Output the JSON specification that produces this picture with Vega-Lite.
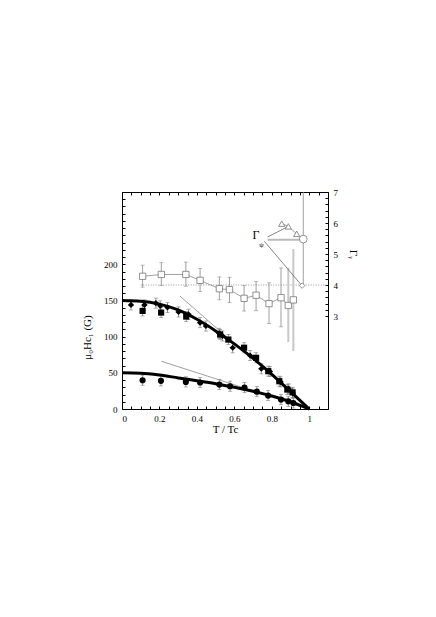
{
 "$schema": "https://vega.github.io/schema/vega-lite/v6.json",
 "width": 206, "height": 217,
 "autosize": "none",
 "padding": {"left": 122, "top": 192, "right": 108, "bottom": 208},
 "background": "white",
 "config": {
  "view": {"stroke": "black", "strokeWidth": 1},
  "axis": {"domainColor": "black", "tickColor": "black", "tickSize": -3, "labelFont": "Liberation Serif", "labelFontSize": 9, "labelColor": "black", "titleFont": "Liberation Serif, DejaVu Serif", "titleFontSize": 11, "titleFontWeight": "normal", "titleColor": "black", "grid": false, "labelPadding": 8}
 },
 "datasets": {
  "curves": [
   {"x": 0, "y": 150, "s": "u"}, {"x": 0.1, "y": 149, "s": "u"}, {"x": 0.2, "y": 145, "s": "u"}, {"x": 0.3, "y": 137, "s": "u"}, {"x": 0.4, "y": 124, "s": "u"}, {"x": 0.5, "y": 108, "s": "u"}, {"x": 0.6, "y": 90, "s": "u"}, {"x": 0.7, "y": 70, "s": "u"}, {"x": 0.8, "y": 48, "s": "u"}, {"x": 0.9, "y": 24, "s": "u"}, {"x": 1.0, "y": 0, "s": "u"},
   {"x": 0, "y": 50, "s": "l"}, {"x": 0.1, "y": 49.5, "s": "l"}, {"x": 0.2, "y": 47, "s": "l"}, {"x": 0.3, "y": 43, "s": "l"}, {"x": 0.4, "y": 39, "s": "l"}, {"x": 0.5, "y": 35, "s": "l"}, {"x": 0.6, "y": 30, "s": "l"}, {"x": 0.7, "y": 24.5, "s": "l"}, {"x": 0.8, "y": 18, "s": "l"}, {"x": 0.9, "y": 10, "s": "l"}, {"x": 1.0, "y": 0, "s": "l"}
  ],
  "tangents": [
   {"x": 0.31, "y": 156, "s": "u"}, {"x": 0.65, "y": 79, "s": "u"},
   {"x": 0.21, "y": 66, "s": "l"}, {"x": 0.75, "y": 21, "s": "l"}
  ],
  "hc1": [
   {"t": "d", "x": 0.048, "y": 143.9, "ylo": 136.9, "yhi": 150.9, "xlo": 0.033, "xhi": 0.063},
   {"t": "d", "x": 0.120, "y": 143.9, "ylo": 136.9, "yhi": 150.9, "xlo": 0.105, "xhi": 0.135},
   {"t": "d", "x": 0.181, "y": 146.3, "ylo": 139.3, "yhi": 153.3, "xlo": 0.166, "xhi": 0.196},
   {"t": "d", "x": 0.204, "y": 142.6, "ylo": 135.6, "yhi": 149.6, "xlo": 0.189, "xhi": 0.219},
   {"t": "d", "x": 0.243, "y": 140.3, "ylo": 133.3, "yhi": 147.3, "xlo": 0.228, "xhi": 0.258},
   {"t": "d", "x": 0.302, "y": 134.2, "ylo": 127.2, "yhi": 141.2, "xlo": 0.287, "xhi": 0.317},
   {"t": "d", "x": 0.355, "y": 131, "ylo": 124, "yhi": 138, "xlo": 0.34, "xhi": 0.37},
   {"t": "d", "x": 0.417, "y": 119.4, "ylo": 112.4, "yhi": 126.4, "xlo": 0.402, "xhi": 0.432},
   {"t": "d", "x": 0.448, "y": 114.7, "ylo": 107.7, "yhi": 121.7, "xlo": 0.433, "xhi": 0.463},
   {"t": "d", "x": 0.519, "y": 104.6, "ylo": 97.6, "yhi": 111.6, "xlo": 0.504, "xhi": 0.534},
   {"t": "d", "x": 0.536, "y": 101, "ylo": 94, "yhi": 108, "xlo": 0.521, "xhi": 0.551},
   {"t": "d", "x": 0.591, "y": 84.7, "ylo": 77.7, "yhi": 91.7, "xlo": 0.576, "xhi": 0.606},
   {"t": "d", "x": 0.684, "y": 74, "ylo": 67, "yhi": 81, "xlo": 0.669, "xhi": 0.699},
   {"t": "d", "x": 0.744, "y": 55.6, "ylo": 48.6, "yhi": 62.6, "xlo": 0.729, "xhi": 0.759},
   {"t": "d", "x": 0.79, "y": 51.9, "ylo": 44.9, "yhi": 58.9, "xlo": 0.775, "xhi": 0.805},
   {"t": "d", "x": 0.847, "y": 37.5, "ylo": 30.5, "yhi": 44.5, "xlo": 0.832, "xhi": 0.862},
   {"t": "d", "x": 0.89, "y": 27.8, "ylo": 20.8, "yhi": 34.8, "xlo": 0.875, "xhi": 0.905},
   {"t": "d", "x": 0.911, "y": 22, "ylo": 15, "yhi": 29, "xlo": 0.896, "xhi": 0.926},
   {"t": "s", "x": 0.110, "y": 135.6, "ylo": 128.6, "yhi": 142.6, "xlo": 0.095, "xhi": 0.125},
   {"t": "s", "x": 0.209, "y": 133.3, "ylo": 126.3, "yhi": 140.3, "xlo": 0.194, "xhi": 0.224},
   {"t": "s", "x": 0.343, "y": 127.8, "ylo": 120.8, "yhi": 134.8, "xlo": 0.328, "xhi": 0.358},
   {"t": "s", "x": 0.524, "y": 103, "ylo": 96, "yhi": 110, "xlo": 0.509, "xhi": 0.539},
   {"t": "s", "x": 0.568, "y": 96, "ylo": 89, "yhi": 103, "xlo": 0.553, "xhi": 0.583},
   {"t": "s", "x": 0.652, "y": 84.7, "ylo": 77.7, "yhi": 91.7, "xlo": 0.637, "xhi": 0.667},
   {"t": "s", "x": 0.716, "y": 70.8, "ylo": 63.8, "yhi": 77.8, "xlo": 0.701, "xhi": 0.731},
   {"t": "s", "x": 0.781, "y": 52.3, "ylo": 45.3, "yhi": 59.3, "xlo": 0.766, "xhi": 0.796},
   {"t": "s", "x": 0.84, "y": 38.4, "ylo": 31.4, "yhi": 45.4, "xlo": 0.825, "xhi": 0.855},
   {"t": "s", "x": 0.883, "y": 26.9, "ylo": 19.9, "yhi": 33.9, "xlo": 0.868, "xhi": 0.898},
   {"t": "s", "x": 0.911, "y": 23, "ylo": 16, "yhi": 30, "xlo": 0.896, "xhi": 0.926},
   {"t": "c", "x": 0.11, "y": 39.8, "ylo": 32.8, "yhi": 46.8, "xlo": 0.095, "xhi": 0.125},
   {"t": "c", "x": 0.208, "y": 38.9, "ylo": 31.9, "yhi": 45.9, "xlo": 0.193, "xhi": 0.223},
   {"t": "c", "x": 0.341, "y": 37.5, "ylo": 30.5, "yhi": 44.5, "xlo": 0.326, "xhi": 0.356},
   {"t": "c", "x": 0.417, "y": 36.6, "ylo": 29.6, "yhi": 43.6, "xlo": 0.402, "xhi": 0.432},
   {"t": "c", "x": 0.52, "y": 33.8, "ylo": 26.8, "yhi": 40.8, "xlo": 0.505, "xhi": 0.535},
   {"t": "c", "x": 0.577, "y": 31.5, "ylo": 24.5, "yhi": 38.5, "xlo": 0.562, "xhi": 0.592},
   {"t": "c", "x": 0.654, "y": 29.6, "ylo": 22.6, "yhi": 36.6, "xlo": 0.639, "xhi": 0.669},
   {"t": "c", "x": 0.72, "y": 24, "ylo": 17, "yhi": 31, "xlo": 0.705, "xhi": 0.735},
   {"t": "c", "x": 0.78, "y": 18.5, "ylo": 11.5, "yhi": 25.5, "xlo": 0.765, "xhi": 0.795},
   {"t": "c", "x": 0.849, "y": 13, "ylo": 6, "yhi": 20, "xlo": 0.834, "xhi": 0.864},
   {"t": "c", "x": 0.888, "y": 10.6, "ylo": 3.6, "yhi": 17.6, "xlo": 0.873, "xhi": 0.903},
   {"t": "c", "x": 0.915, "y": 8.3, "ylo": 1.3, "yhi": 15.3, "xlo": 0.9, "xhi": 0.93}
  ],
  "gamma": [
   {"x": 0.110, "g": 4.28, "glo": 3.93, "ghi": 4.64, "k": "d"},
   {"x": 0.210, "g": 4.34, "glo": 3.98, "ghi": 4.72, "k": "d"},
   {"x": 0.341, "g": 4.34, "glo": 3.96, "ghi": 4.74, "k": "d"},
   {"x": 0.417, "g": 4.15, "glo": 3.79, "ghi": 4.53, "k": "d"},
   {"x": 0.520, "g": 3.88, "glo": 3.52, "ghi": 4.26, "k": "d"},
   {"x": 0.574, "g": 3.85, "glo": 3.43, "ghi": 4.25, "k": "d"},
   {"x": 0.652, "g": 3.57, "glo": 3.16, "ghi": 3.98, "k": "d"},
   {"x": 0.716, "g": 3.67, "glo": 3.17, "ghi": 4.11, "k": "d"},
   {"x": 0.785, "g": 3.40, "glo": 2.76, "ghi": 4.07, "k": "d"},
   {"x": 0.849, "g": 3.59, "glo": 2.65, "ghi": 4.55, "k": "d"},
   {"x": 0.888, "g": 3.34, "glo": 2.16, "ghi": 4.56, "k": "l"},
   {"x": 0.915, "g": 3.52, "glo": 1.87, "ghi": 5.16, "k": "l"}
  ],
  "tri": [{"x": 0.853, "g": 5.98}, {"x": 0.888, "g": 5.89}, {"x": 0.933, "g": 5.65}],
  "circ": [{"x": 0.968, "g": 5.48, "glo": 3.98, "ghi": 7}],
  "diam": [{"x": 0.962, "g": 3.98}],
  "pointers": [
   {"p": "a", "x": 0.778, "g": 5.55}, {"p": "a", "x": 0.888, "g": 5.89},
   {"p": "c", "x": 0.760, "g": 5.41}, {"p": "c", "x": 0.955, "g": 4.02}
  ],
  "pointer2": [{"x": 0.778, "x2": 0.955, "g": 5.46}],
  "dotted": [{"x": 0.1, "x2": 1.1, "g": 4}],
  "lab1": [{"x": 0.716, "g": 5.6, "label": "Γ"}],
  "lab2": [{"x": 0.745, "g": 5.3, "label": "ψ"}]
 },
 "resolve": {"scale": {"y": "independent"}, "axis": {"x": "independent", "y": "independent"}},
 "layer": [
  {
   "data": {"name": "dotted"},
   "mark": {"type": "rule", "color": "#999", "strokeDash": [1, 1.5], "strokeWidth": 1},
   "encoding": {
    "x": {"field": "x", "type": "quantitative", "scale": {"domain": [0, 1.1], "nice": false, "zero": false}, "axis": null},
    "x2": {"field": "x2"},
    "y": {"field": "g", "type": "quantitative", "scale": {"domain": [0, 7], "nice": false}, "axis": null}
   }
  },
  {
   "data": {"name": "gamma"},
   "transform": [{"filter": "datum.k == 'l'"}],
   "mark": {"type": "rule", "color": "#c8c8c8", "strokeWidth": 2},
   "encoding": {
    "x": {"field": "x", "type": "quantitative", "scale": {"domain": [0, 1.1], "nice": false, "zero": false}, "axis": null},
    "y": {"field": "glo", "type": "quantitative", "scale": {"domain": [0, 7], "nice": false}, "axis": null},
    "y2": {"field": "ghi"}
   }
  },
  {
   "data": {"name": "gamma"},
   "transform": [{"filter": "datum.k == 'd'"}],
   "mark": {"type": "rule", "color": "#888", "strokeWidth": 0.8},
   "encoding": {
    "x": {"field": "x", "type": "quantitative", "scale": {"domain": [0, 1.1], "nice": false, "zero": false}, "axis": null},
    "y": {"field": "glo", "type": "quantitative", "scale": {"domain": [0, 7], "nice": false}, "axis": null},
    "y2": {"field": "ghi"}
   }
  },
  {
   "data": {"name": "gamma"},
   "transform": [{"filter": "datum.k == 'd'"}],
   "mark": {"type": "tick", "color": "#888", "orient": "horizontal", "size": 4, "thickness": 0.8},
   "encoding": {
    "x": {"field": "x", "type": "quantitative", "scale": {"domain": [0, 1.1], "nice": false, "zero": false}, "axis": null},
    "y": {"field": "glo", "type": "quantitative", "scale": {"domain": [0, 7], "nice": false}, "axis": null}
   }
  },
  {
   "data": {"name": "gamma"},
   "transform": [{"filter": "datum.k == 'd'"}],
   "mark": {"type": "tick", "color": "#888", "orient": "horizontal", "size": 4, "thickness": 0.8},
   "encoding": {
    "x": {"field": "x", "type": "quantitative", "scale": {"domain": [0, 1.1], "nice": false, "zero": false}, "axis": null},
    "y": {"field": "ghi", "type": "quantitative", "scale": {"domain": [0, 7], "nice": false}, "axis": null}
   }
  },
  {
   "data": {"name": "gamma"},
   "mark": {"type": "line", "color": "#888", "strokeWidth": 0.8},
   "encoding": {
    "x": {"field": "x", "type": "quantitative", "scale": {"domain": [0, 1.1], "nice": false, "zero": false},
      "axis": {"orient": "top", "values": [0,0.05,0.1,0.15,0.2,0.25,0.3,0.35,0.4,0.45,0.5,0.55,0.6,0.65,0.7,0.75,0.8,0.85,0.9,0.95,1,1.05,1.1], "labels": false, "title": null, "domain": false}},
    "y": {"field": "g", "type": "quantitative", "scale": {"domain": [0, 7], "nice": false},
      "axis": {"orient": "right", "values": [3,3.2,3.4,3.6,3.8,4,4.2,4.4,4.6,4.8,5,5.2,5.4,5.6,5.8,6,6.2,6.4,6.6,6.8,7], "labelExpr": "abs(datum.value - round(datum.value)) < 0.001 ? format(datum.value, 'd') : ''", "title": "Γᵧ", "titleAngle": 90, "titleX": 24, "titleY": 62, "titleAlign": "center", "titleBaseline": "middle", "domain": false}}
   }
  },
  {
   "data": {"name": "gamma"},
   "mark": {"type": "point", "shape": "square", "filled": true, "fill": "white", "stroke": "#777", "strokeWidth": 0.8, "size": 40, "opacity": 1},
   "encoding": {
    "x": {"field": "x", "type": "quantitative", "scale": {"domain": [0, 1.1], "nice": false, "zero": false}, "axis": null},
    "y": {"field": "g", "type": "quantitative", "scale": {"domain": [0, 7], "nice": false}, "axis": null}
   }
  },
  {
   "data": {"name": "circ"},
   "mark": {"type": "rule", "color": "#888", "strokeWidth": 0.8},
   "encoding": {
    "x": {"field": "x", "type": "quantitative", "scale": {"domain": [0, 1.1], "nice": false, "zero": false}, "axis": null},
    "y": {"field": "glo", "type": "quantitative", "scale": {"domain": [0, 7], "nice": false}, "axis": null},
    "y2": {"field": "ghi"}
   }
  },
  {
   "data": {"name": "pointer2"},
   "mark": {"type": "rule", "color": "#bbb", "strokeWidth": 1.8},
   "encoding": {
    "x": {"field": "x", "type": "quantitative", "scale": {"domain": [0, 1.1], "nice": false, "zero": false}, "axis": null},
    "x2": {"field": "x2"},
    "y": {"field": "g", "type": "quantitative", "scale": {"domain": [0, 7], "nice": false}, "axis": null}
   }
  },
  {
   "data": {"name": "pointers"},
   "mark": {"type": "line", "color": "#666", "strokeWidth": 0.8},
   "encoding": {
    "x": {"field": "x", "type": "quantitative", "scale": {"domain": [0, 1.1], "nice": false, "zero": false}, "axis": null},
    "y": {"field": "g", "type": "quantitative", "scale": {"domain": [0, 7], "nice": false}, "axis": null},
    "detail": {"field": "p"}
   }
  },
  {
   "data": {"name": "tri"},
   "mark": {"type": "line", "color": "#888", "strokeWidth": 0.8},
   "encoding": {
    "x": {"field": "x", "type": "quantitative", "scale": {"domain": [0, 1.1], "nice": false, "zero": false}, "axis": null},
    "y": {"field": "g", "type": "quantitative", "scale": {"domain": [0, 7], "nice": false}, "axis": null}
   }
  },
  {
   "data": {"name": "tri"},
   "mark": {"type": "point", "shape": "triangle-up", "filled": true, "fill": "white", "stroke": "#777", "strokeWidth": 0.8, "size": 40, "opacity": 1},
   "encoding": {
    "x": {"field": "x", "type": "quantitative", "scale": {"domain": [0, 1.1], "nice": false, "zero": false}, "axis": null},
    "y": {"field": "g", "type": "quantitative", "scale": {"domain": [0, 7], "nice": false}, "axis": null}
   }
  },
  {
   "data": {"name": "circ"},
   "mark": {"type": "point", "shape": "circle", "filled": true, "fill": "white", "stroke": "#777", "strokeWidth": 0.8, "size": 60, "opacity": 1},
   "encoding": {
    "x": {"field": "x", "type": "quantitative", "scale": {"domain": [0, 1.1], "nice": false, "zero": false}, "axis": null},
    "y": {"field": "g", "type": "quantitative", "scale": {"domain": [0, 7], "nice": false}, "axis": null}
   }
  },
  {
   "data": {"name": "diam"},
   "mark": {"type": "point", "shape": "diamond", "filled": true, "fill": "white", "stroke": "#777", "strokeWidth": 0.8, "size": 30, "opacity": 1},
   "encoding": {
    "x": {"field": "x", "type": "quantitative", "scale": {"domain": [0, 1.1], "nice": false, "zero": false}, "axis": null},
    "y": {"field": "g", "type": "quantitative", "scale": {"domain": [0, 7], "nice": false}, "axis": null}
   }
  },
  {
   "data": {"name": "lab1"},
   "mark": {"type": "text", "font": "Liberation Serif", "fontSize": 12, "color": "black", "align": "center", "baseline": "middle"},
   "encoding": {
    "x": {"field": "x", "type": "quantitative", "scale": {"domain": [0, 1.1], "nice": false, "zero": false}, "axis": null},
    "y": {"field": "g", "type": "quantitative", "scale": {"domain": [0, 7], "nice": false}, "axis": null},
    "text": {"field": "label"}
   }
  },
  {
   "data": {"name": "lab2"},
   "mark": {"type": "text", "font": "Liberation Serif", "fontSize": 7, "color": "black", "align": "center", "baseline": "middle"},
   "encoding": {
    "x": {"field": "x", "type": "quantitative", "scale": {"domain": [0, 1.1], "nice": false, "zero": false}, "axis": null},
    "y": {"field": "g", "type": "quantitative", "scale": {"domain": [0, 7], "nice": false}, "axis": null},
    "text": {"field": "label"}
   }
  },
  {
   "data": {"name": "tangents"},
   "mark": {"type": "line", "color": "#888", "strokeWidth": 0.8},
   "encoding": {
    "x": {"field": "x", "type": "quantitative", "scale": {"domain": [0, 1.1], "nice": false, "zero": false}, "axis": null},
    "y": {"field": "y", "type": "quantitative", "scale": {"domain": [0, 300], "nice": false}, "axis": null},
    "detail": {"field": "s"}
   }
  },
  {
   "data": {"name": "hc1"},
   "mark": {"type": "rule", "color": "#777", "strokeWidth": 0.8},
   "encoding": {
    "x": {"field": "x", "type": "quantitative", "scale": {"domain": [0, 1.1], "nice": false, "zero": false}, "axis": null},
    "y": {"field": "ylo", "type": "quantitative", "scale": {"domain": [0, 300], "nice": false}, "axis": null},
    "y2": {"field": "yhi"}
   }
  },
  {
   "data": {"name": "hc1"},
   "mark": {"type": "rule", "color": "#777", "strokeWidth": 0.8},
   "encoding": {
    "x": {"field": "xlo", "type": "quantitative", "scale": {"domain": [0, 1.1], "nice": false, "zero": false}, "axis": null},
    "x2": {"field": "xhi"},
    "y": {"field": "y", "type": "quantitative", "scale": {"domain": [0, 300], "nice": false}, "axis": null}
   }
  },
  {
   "data": {"name": "hc1"},
   "mark": {"type": "tick", "color": "#777", "orient": "horizontal", "size": 4, "thickness": 0.8},
   "encoding": {
    "x": {"field": "x", "type": "quantitative", "scale": {"domain": [0, 1.1], "nice": false, "zero": false}, "axis": null},
    "y": {"field": "ylo", "type": "quantitative", "scale": {"domain": [0, 300], "nice": false}, "axis": null}
   }
  },
  {
   "data": {"name": "hc1"},
   "mark": {"type": "tick", "color": "#777", "orient": "horizontal", "size": 4, "thickness": 0.8},
   "encoding": {
    "x": {"field": "x", "type": "quantitative", "scale": {"domain": [0, 1.1], "nice": false, "zero": false}, "axis": null},
    "y": {"field": "yhi", "type": "quantitative", "scale": {"domain": [0, 300], "nice": false}, "axis": null}
   }
  },
  {
   "data": {"name": "curves"},
   "mark": {"type": "line", "color": "black", "strokeWidth": 3, "interpolate": "monotone"},
   "encoding": {
    "x": {"field": "x", "type": "quantitative", "scale": {"domain": [0, 1.1], "nice": false, "zero": false},
      "axis": {"orient": "bottom", "values": [0,0.05,0.1,0.15,0.2,0.25,0.3,0.35,0.4,0.45,0.5,0.55,0.6,0.65,0.7,0.75,0.8,0.85,0.9,0.95,1,1.05,1.1], "labelExpr": "(abs(datum.value*5 - round(datum.value*5)) < 0.001 && datum.value <= 1.0001) ? format(datum.value, '~g') : ''", "title": "T / Tc", "titlePadding": 0, "domain": false}},
    "y": {"field": "y", "type": "quantitative", "scale": {"domain": [0, 300], "nice": false},
      "axis": {"orient": "left", "values": [0,10,20,30,40,50,60,70,80,90,100,110,120,130,140,150,160,170,180,190,200,210,220,230,240,250,260,270,280,290,300], "labelExpr": "(datum.value % 50 == 0 && datum.value <= 200) ? datum.label : ''", "title": "μ₀Hc₁ (G)", "titleX": -35, "titleY": 145, "titleAlign": "center", "titleBaseline": "middle", "domain": false}},
    "detail": {"field": "s"}
   }
  },
  {
   "data": {"name": "hc1"},
   "mark": {"type": "point", "filled": true, "color": "black", "opacity": 1, "size": 38},
   "encoding": {
    "x": {"field": "x", "type": "quantitative", "scale": {"domain": [0, 1.1], "nice": false, "zero": false}, "axis": null},
    "y": {"field": "y", "type": "quantitative", "scale": {"domain": [0, 300], "nice": false}, "axis": null},
    "shape": {"field": "t", "type": "nominal", "scale": {"domain": ["d", "s", "c"], "range": ["diamond", "square", "circle"]}, "legend": null}
   }
  }
 ]
}
